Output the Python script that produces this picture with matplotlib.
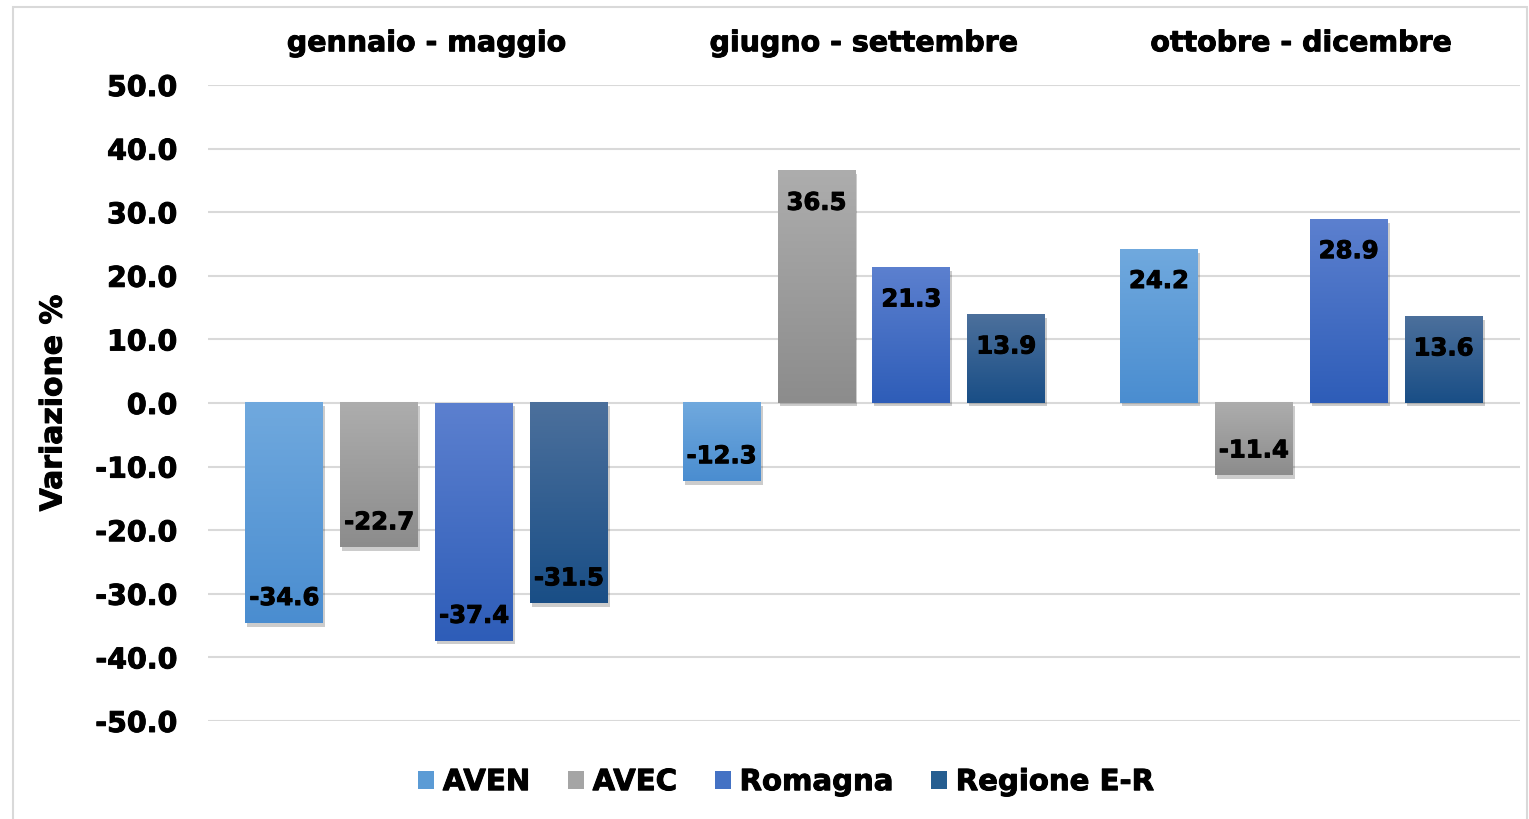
import matplotlib
matplotlib.use("Agg")
import matplotlib.pyplot as plt
import matplotlib.patheffects as pe
from matplotlib.colors import LinearSegmentedColormap
from matplotlib.patches import Rectangle, Patch
import numpy as np

# --- data -------------------------------------------------------------------
PERIODS = ["gennaio - maggio", "giugno - settembre", "ottobre - dicembre"]
SERIES = ["AVEN", "AVEC", "Romagna", "Regione E-R"]
AVEN = [-34.6, -12.3, 24.2]
AVEC = [-22.7, 36.5, -11.4]
ROMAGNA = [-37.4, 21.3, 28.9]
REGIONE = [-31.5, 13.9, 13.6]
VALUES = [AVEN, AVEC, ROMAGNA, REGIONE]
YTICKS = [-50, -40, -30, -20, -10, 0, 10, 20, 30, 40, 50]

# top -> bottom gradient colours per series
GRAD = [("#70a9de", "#4a8dd0"),
        ("#adadad", "#8c8c8c"),
        ("#5c80cf", "#2e5db8"),
        ("#4c709c", "#194e86")]
MID = ["#5b9bd5", "#a5a5a5", "#4472c4", "#255e91"]
GRID = "#d9d9d9"
BOLDER = [pe.withStroke(linewidth=0.7, foreground="#000000")]

plt.rcParams.update({
    "font.family": "DejaVu Sans",
    "font.weight": "bold",
})

fig = plt.figure(figsize=(15.29, 8.19), dpi=100)
ax = fig.add_axes([0.136, 0.1197, 0.858, 0.7765])

x = np.arange(len(PERIODS))
step = 0.217
width = 0.178
grad = np.linspace(0, 1, 256).reshape(-1, 1)

for i, (name, vals) in enumerate(zip(SERIES, VALUES)):
    pos = x + (i - 1.5) * step
    bars = ax.bar(pos, vals, width, color=MID[i], zorder=2, label=name,
                  path_effects=[pe.SimplePatchShadow(offset=(1.5, -2.5),
                                                     shadow_rgbFace="#000000",
                                                     alpha=0.2),
                                pe.Normal()])
    cmap = LinearSegmentedColormap.from_list(name, [GRAD[i][0], GRAD[i][1]])
    for r, v in zip(bars, vals):
        x0, y0 = r.get_x(), r.get_y()
        x1, y1 = x0 + r.get_width(), y0 + r.get_height()
        ax.imshow(grad, cmap=cmap, aspect="auto", zorder=3,
                  extent=[x0, x1, min(y0, y1), max(y0, y1)], origin="upper")
        # label sits inside the bar, near its end
        dy = -23 if v >= 0 else 18
        ax.annotate(f"{v:.1f}", (x0 + r.get_width() / 2, v),
                    xytext=(0, dy), textcoords="offset points",
                    ha="center", va="center", fontsize=17.5, fontweight="bold",
                    color="#000000", zorder=4, path_effects=BOLDER)

ax.set_xlim(-0.5, 2.5)
ax.set_ylim(-50, 50)
ax.set_yticks(YTICKS, [f"{t:.1f}" for t in YTICKS], fontsize=20.5)
ax.set_xticks(x, PERIODS, fontsize=20.5)
ax.xaxis.tick_top()
ax.tick_params(axis="x", length=0, pad=20)
ax.tick_params(axis="y", length=0, pad=22)
for t in ax.get_xticklabels() + ax.get_yticklabels():
    t.set_path_effects(BOLDER)
ax.yaxis.grid(True, color=GRID, lw=1.5, zorder=0)
ax.set_axisbelow(True)
for s in ax.spines.values():
    s.set_visible(False)
ax.set_ylabel("Variazione %", fontsize=21.5, fontweight="bold", labelpad=20,
              path_effects=BOLDER)

handles = [Patch(facecolor=MID[i], label=SERIES[i]) for i in range(4)]
leg = fig.legend(handles=handles, loc="center", bbox_to_anchor=(0.514, 0.045),
                 ncol=4, frameon=False, fontsize=21, handlelength=0.55,
                 handleheight=0.55, handletextpad=0.3, columnspacing=1.3)
for t in leg.get_texts():
    t.set_path_effects(BOLDER)

fig.patches.append(Rectangle((13 / 1529, -0.01), 1 - 15 / 1529, 1 - 7 / 819 + 0.01,
                             transform=fig.transFigure, fill=False,
                             edgecolor=GRID, lw=1.5))

fig.savefig("out.png", dpi=100)
